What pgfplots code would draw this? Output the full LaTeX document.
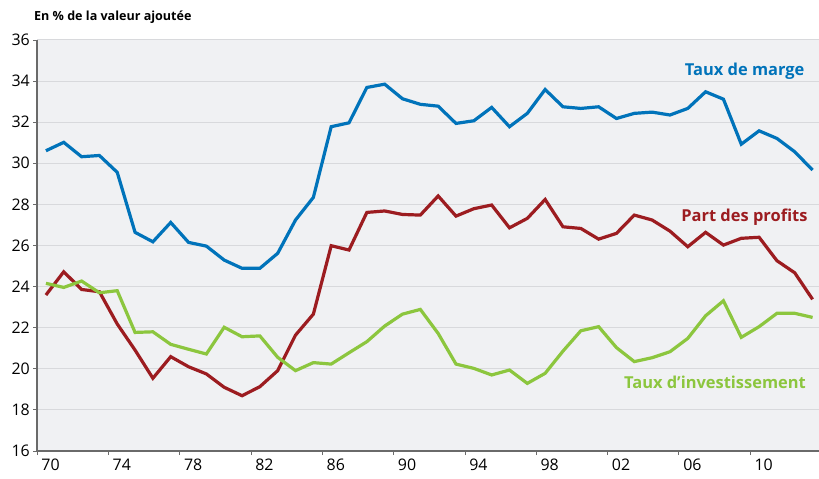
\documentclass[border=0pt]{standalone}
\usepackage{pgfplots}
\pgfplotsset{compat=1.18}
\usepackage{fontspec}
\setmainfont{Open Sans}
\definecolor{cblue}{HTML}{0073BA}
\definecolor{cred}{HTML}{9C1C20}
\definecolor{cgreen}{HTML}{8CC63E}
\definecolor{bgc}{HTML}{F0F1F3}
\definecolor{gridc}{HTML}{D8D9DC}
\definecolor{axc}{HTML}{6A6A6A}
\begin{document}
\begin{tikzpicture}
\useasboundingbox (-37bp,-28bp) rectangle (782bp,451bp);
\begin{axis}[
  at={(0,0)}, anchor=south west,
  scale only axis, width=782bp, height=411bp,
  xmin=1969.5, xmax=2013.36, ymin=16, ymax=36,
  axis x line*=bottom, axis y line*=left,
  axis line style={draw=axc, line width=1.3bp, -},
  axis background/.style={fill=bgc},
  ytick={16,18,...,36},
  ymajorgrids, grid style={draw=gridc, line width=1bp},
  xtick={1969.5,1973.5,...,2009.5},
  xticklabels={70,74,78,82,86,90,94,98,02,06,10},
  tick align=outside,
  major tick length=4bp,
  tick style={draw=axc, line width=0.8bp},
  xticklabel style={anchor=north, xshift=13.5bp, yshift=-2bp},
  yticklabel style={anchor=east, xshift=-1bp},
  ticklabel style={font=\fontsize{16}{17}\selectfont, text=black, inner sep=2bp},
  /pgf/number format/assume math mode=true,
  clip=false,
]
\addplot[cblue, line width=3.2bp] coordinates {
(1970,30.61)(1971,31.02)(1972,30.32)(1973,30.38)(1974,29.56)(1975,26.64)(1976,26.18)(1977,27.12)(1978,26.15)(1979,25.97)
(1980,25.29)(1981,24.89)(1982,24.89)(1983,25.62)(1984,27.24)(1985,28.34)(1986,31.78)(1987,31.97)(1988,33.69)(1989,33.85)
(1990,33.14)(1991,32.87)(1992,32.78)(1993,31.94)(1994,32.07)(1995,32.72)(1996,31.78)(1997,32.43)(1998,33.59)(1999,32.75)
(2000,32.67)(2001,32.75)(2002,32.18)(2003,32.43)(2004,32.49)(2005,32.35)(2006,32.67)(2007,33.48)(2008,33.12)(2009,30.93)
(2010,31.58)(2011,31.21)(2012,30.56)(2013,29.67)};
\addplot[cred, line width=3.2bp] coordinates {
(1970,23.59)(1971,24.72)(1972,23.86)(1973,23.75)(1974,22.18)(1975,20.91)(1976,19.54)(1977,20.59)(1978,20.10)(1979,19.75)
(1980,19.10)(1981,18.69)(1982,19.13)(1983,19.91)(1984,21.64)(1985,22.66)(1986,25.99)(1987,25.78)(1988,27.61)(1989,27.68)
(1990,27.51)(1991,27.48)(1992,28.41)(1993,27.43)(1994,27.79)(1995,27.97)(1996,26.86)(1997,27.32)(1998,28.24)(1999,26.91)
(2000,26.83)(2001,26.31)(2002,26.59)(2003,27.48)(2004,27.24)(2005,26.70)(2006,25.94)(2007,26.64)(2008,26.02)(2009,26.35)
(2010,26.40)(2011,25.26)(2012,24.67)(2013,23.38)};
\addplot[cgreen, line width=3.2bp] coordinates {
(1970,24.16)(1971,23.96)(1972,24.27)(1973,23.70)(1974,23.80)(1975,21.77)(1976,21.80)(1977,21.19)(1978,20.95)(1979,20.72)
(1980,22.02)(1981,21.56)(1982,21.60)(1983,20.56)(1984,19.91)(1985,20.30)(1986,20.23)(1987,20.78)(1988,21.32)(1989,22.08)
(1990,22.66)(1991,22.89)(1992,21.72)(1993,20.23)(1994,20.02)(1995,19.70)(1996,19.94)(1997,19.29)(1998,19.78)(1999,20.86)
(2000,21.85)(2001,22.05)(2002,21.03)(2003,20.35)(2004,20.54)(2005,20.83)(2006,21.48)(2007,22.58)(2008,23.31)(2009,21.53)
(2010,22.05)(2011,22.70)(2012,22.70)(2013,22.50)};
\node[anchor=base east, text=cblue, font=\fontsize{16.5}{17}\selectfont\bfseries] at (axis cs:2012.74,34.29) {Taux de marge};
\node[anchor=base east, text=cred, font=\fontsize{16.5}{17}\selectfont\bfseries] at (axis cs:2012.91,27.19) {Part des profits};
\node[anchor=base east, text=cgreen, font=\fontsize{16.5}{17}\selectfont\bfseries] at (axis cs:2012.82,19.05) {Taux d’investissement};
\node[anchor=base west, font=\fontsize{12.6}{14}\selectfont\bfseries, inner sep=0pt] at (rel axis cs:0,1) [xshift=-3bp, yshift=19.5bp] {En \% de la valeur ajoutée};
\end{axis}
\end{tikzpicture}
\end{document}
